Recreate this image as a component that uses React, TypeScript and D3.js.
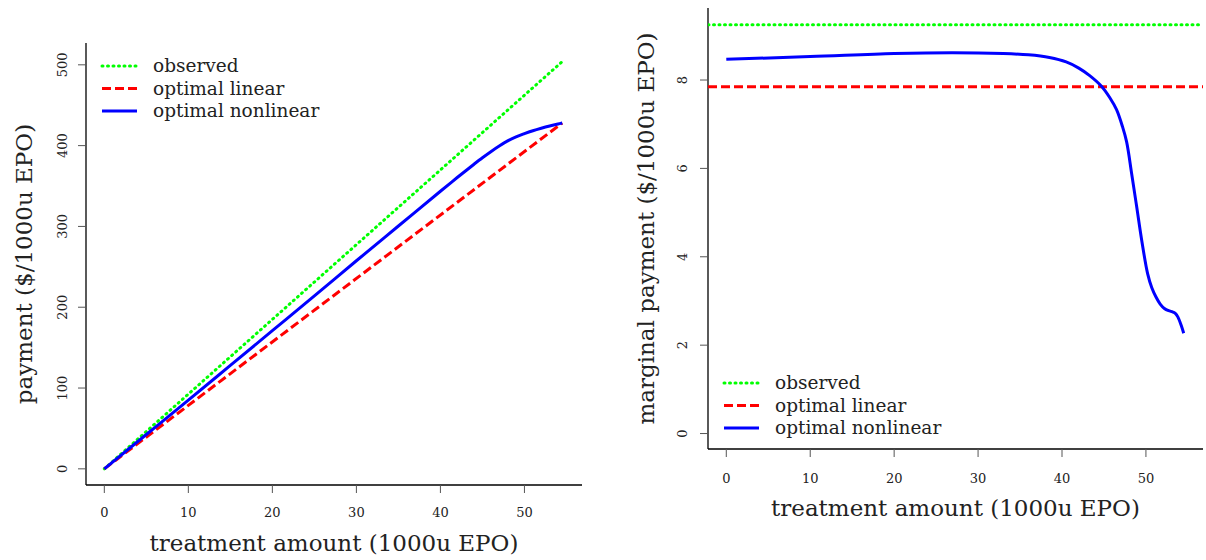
import React from "react";
import * as d3 from "d3";

// ---------- data ----------
const xTicks = [0, 10, 20, 30, 40, 50];
const leftYTicks = [0, 100, 200, 300, 400, 500];
const rightYTicks = [0, 2, 4, 6, 8];

const seriesNames = ["observed", "optimal linear", "optimal nonlinear"];
const seriesColors = ["#00ff00", "#ff0000", "#0000ff"];

// left panel: cumulative payment
const observedX = [0, 54.5];
const observedPay = [0, 504];
const linearX = [0, 54.5];
const linearPay = [0, 428];
const nonlinX = [0, 5, 10, 15, 20, 25, 30, 35, 40, 42, 44, 45, 46, 47, 48, 49, 50, 51, 52, 53, 54, 54.5];
const nonlinPay = [0, 42.5, 85, 128, 171, 214, 257.5, 300.5, 343.5, 360.5, 377, 385, 392.5, 399.5, 405.8, 410.8, 414.8, 418.4, 421.5, 424.3, 426.8, 428];

// right panel: marginal payment
const margObserved = 9.25;
const margLinear = 7.85;
const margX = [0, 10, 20, 27, 33, 36, 38.5, 40.5, 42, 43.3, 44.7, 45.7, 46.5, 47.2, 47.7, 48.3, 48.9, 49.5, 50.2, 50.7, 51.2, 51.7, 52.2, 52.7, 53.2, 53.5, 53.8, 54.2, 54.5];
const margNonlin = [8.47, 8.53, 8.6, 8.62, 8.6, 8.57, 8.51, 8.41, 8.27, 8.1, 7.86, 7.6, 7.33, 6.95, 6.6, 5.88, 5.13, 4.37, 3.62, 3.3, 3.09, 2.93, 2.83, 2.78, 2.75, 2.72, 2.64, 2.45, 2.27];

// ---------- styling ----------
const FONT = "DejaVu Serif";
const LW = 3;
const dashes = ["1 4.5", "9 4", null];
const caps = ["round", "butt", "butt"];

type Panel = {
  x0: number; x1: number; y0: number; y1: number;
  xDom: [number, number]; yDom: [number, number];
};

const leftP: Panel = { x0: 86, x1: 582, y0: 43, y1: 485, xDom: [-2.18, 56.85], yDom: [-20, 527] };
const rightP: Panel = { x0: 708, x1: 1203, y0: 8, y1: 449, xDom: [-2.18, 56.8], yDom: [-0.35, 9.63] };

function Axes({ p, xs, ys, yTicks, xLabel, yLabel, xTickY, xTitleY, yTickX, yTitleX }: any) {
  return (
    <g>
      <line x1={p.x0} x2={p.x0} y1={p.y0} y2={p.y1} stroke="#000" strokeWidth={1.3} />
      <line x1={p.x0} x2={p.x1} y1={p.y1} y2={p.y1} stroke="#000" strokeWidth={1.3} />
      {xTicks.map((t) => (
        <g key={"x" + t}>
          <line x1={xs(t)} x2={xs(t)} y1={p.y1} y2={p.y1 + 8} stroke="#555" strokeWidth={1} />
          <text x={xs(t)} y={xTickY} textAnchor="middle" fontFamily={FONT} fontSize={13} fill="#222">{t}</text>
        </g>
      ))}
      {yTicks.map((t: number) => (
        <g key={"y" + t}>
          <line x1={p.x0} x2={p.x0 - 8} y1={ys(t)} y2={ys(t)} stroke="#555" strokeWidth={1} />
          <text transform={`translate(${yTickX},${ys(t)}) rotate(-90)`} textAnchor="middle" fontFamily={FONT} fontSize={13} fill="#222">{t}</text>
        </g>
      ))}
      <text x={(p.x0 + p.x1) / 2} y={xTitleY} textAnchor="middle" fontFamily={FONT} fontSize={23} fill="#222">{xLabel}</text>
      <text transform={`translate(${yTitleX},${(p.y0 + p.y1) / 2}) rotate(-90)`} textAnchor="middle" fontFamily={FONT} fontSize={23} fill="#222">{yLabel}</text>
    </g>
  );
}

function Legend({ x, y, len, textX }: any) {
  return (
    <g>
      {seriesNames.map((n, i) => (
        <g key={n}>
          <line x1={x} x2={x + len} y1={y + i * 22.5} y2={y + i * 22.5} stroke={seriesColors[i]} strokeWidth={LW}
            strokeDasharray={dashes[i] ?? undefined} strokeLinecap={caps[i] as any} />
          <text x={textX} y={y + i * 22.5 + 6} fontFamily={FONT} fontSize={18.5} fill="#222">{n}</text>
        </g>
      ))}
    </g>
  );
}

export default function App() {
  const lx = d3.scaleLinear().domain(leftP.xDom).range([leftP.x0, leftP.x1]);
  const ly = d3.scaleLinear().domain(leftP.yDom).range([leftP.y1, leftP.y0]);
  const rx = d3.scaleLinear().domain(rightP.xDom).range([rightP.x0, rightP.x1]);
  const ry = d3.scaleLinear().domain(rightP.yDom).range([rightP.y1, rightP.y0]);

  const mk = (xs: any, ys: any, curve: any) =>
    d3.line<[number, number]>().x((d) => xs(d[0])).y((d) => ys(d[1])).curve(curve);

  const leftSeries = [
    d3.zip(observedX, observedPay) as [number, number][],
    d3.zip(linearX, linearPay) as [number, number][],
    d3.zip(nonlinX, nonlinPay) as [number, number][],
  ];
  const leftLine = mk(lx, ly, d3.curveCatmullRom.alpha(0.5));

  const rightSeries = [
    [[rightP.xDom[0], margObserved], [rightP.xDom[1], margObserved]] as [number, number][],
    [[rightP.xDom[0], margLinear], [rightP.xDom[1], margLinear]] as [number, number][],
    d3.zip(margX, margNonlin) as [number, number][],
  ];
  const rightLine = mk(rx, ry, d3.curveCatmullRom.alpha(0.5));

  return (
    <svg width={1206} height={560} style={{ position: "fixed", left: 0, top: 0, background: "#fff" }}>
      <rect width={1206} height={560} fill="#fff" />
      <Axes p={leftP} xs={lx} ys={ly} yTicks={leftYTicks}
        xLabel="treatment amount (1000u EPO)" yLabel="payment ($/1000u EPO)"
        xTickY={517} xTitleY={551} yTickX={67} yTitleX={32} />
      <Axes p={rightP} xs={rx} ys={ry} yTicks={rightYTicks}
        xLabel="treatment amount (1000u EPO)" yLabel="marginal payment ($/1000u EPO)"
        xTickY={483} xTitleY={516} yTickX={687} yTitleX={654} />
      {leftSeries.map((s, i) => (
        <path key={"l" + i} d={leftLine(s) || ""} fill="none" stroke={seriesColors[i]} strokeWidth={LW}
          strokeDasharray={dashes[i] ?? undefined} strokeLinecap={caps[i] as any} />
      ))}
      <g>
        <clipPath id="rclip"><rect x={rightP.x0} y={rightP.y0} width={rightP.x1 - rightP.x0} height={rightP.y1 - rightP.y0} /></clipPath>
        {rightSeries.map((s, i) => (
          <path key={"r" + i} d={rightLine(s) || ""} fill="none" stroke={seriesColors[i]} strokeWidth={LW}
            strokeDasharray={dashes[i] ?? undefined} strokeLinecap={caps[i] as any} clipPath="url(#rclip)" />
        ))}
      </g>
      <Legend x={102} y={66} len={35} textX={153} />
      <Legend x={724} y={383} len={35} textX={775} />
    </svg>
  );
}
